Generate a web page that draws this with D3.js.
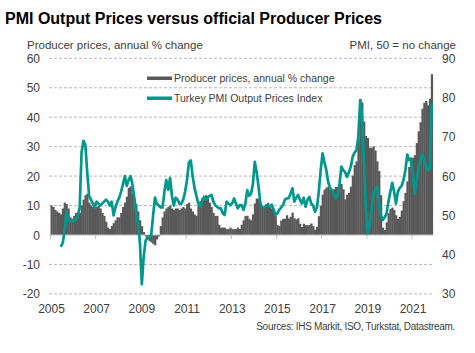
<!DOCTYPE html>
<html>
<head>
<meta charset="utf-8">
<script src="https://cdn.jsdelivr.net/npm/d3@7"></script>
<style>
  body { margin: 0; background: #fff; }
  svg { font-family: "Liberation Sans", Arial, sans-serif; }
</style>
</head>
<body>
<svg id="chart" width="475" height="353"></svg>
<script>
// monthly data, Jan 2005 .. Nov 2021
const startYear = 2005;

// producer prices, annual % change
const ppi = [
  10, 9.5, 8.5, 8, 7.5, 7, 9, 11, 10.5, 9, 6, 5.5,            // 2005
  6.5, 7.5, 7, 7.5, 10, 12, 13.5, 14, 11, 10, 9.5, 11,        // 2006
  9.5, 10, 9, 7.5, 6.5, 4.5, 2.5, 2, 3, 4, 5, 6,              // 2007
  6, 7.5, 9.5, 11, 13, 16, 16.5, 14, 12, 10.5, 8, 5,          // 2008
  3, 1, -0.5, -1.5, -2, -2.5, -3, -3.5, -1.5, -0.5, 3, 6,     // 2009
  8, 9, 9.5, 10, 9, 8.5, 9, 9, 8.5, 9, 9.5, 9,                // 2010
  10.5, 11, 9, 8, 7, 6.5, 10, 11.5, 12.5, 12.5, 13.5, 13.3,   // 2011
  11, 9.5, 7.5, 6.5, 6.5, 3.5, 2.5, 2.5, 2.5, 2, 2, 2.5,      // 2012
  2, 2, 2, 2.5, 2, 3.5, 5, 6.5, 6.5, 5.5, 5, 7,               // 2013
  10.7, 12.4, 12.3, 11, 9.5, 9.8, 10.5, 10.9, 9.8, 9, 8.4, 6.4, // 2014
  3.3, 3.1, 4.9, 5.5, 5.5, 6.7, 5.6, 6.2, 7.6, 5.7, 5.3, 5.7, // 2015
  3.8, 2.7, 3.8, 3.3, 3.3, 3.4, 3.9, 3.0, 1.8, 2.8, 6.4, 9.9, // 2016
  13.7, 15.4, 16.1, 16.4, 15.3, 14.9, 15.5, 16.3, 16.3, 17.3, 17.3, 15.5, // 2017
  12.1, 13.7, 14.3, 16.4, 20.2, 23.7, 25.0, 32.1, 46.2, 45.0, 38.5, 33.6, // 2018
  32.9, 29.6, 29.6, 30.1, 28.7, 25.0, 21.7, 13.5, 2.5, 1.7, 4.3, 7.4,     // 2019
  8.8, 9.3, 8.5, 6.7, 5.5, 6.2, 8.3, 11.5, 14.3, 18.2, 23.1, 25.2,        // 2020
  26.2, 27.1, 31.2, 35.2, 38.3, 42.9, 44.9, 45.5, 44.0, 46.3, 54.6        // 2021
];

// Turkey PMI output prices index (series starts Jun 2005)
const pmi = [
  null, null, null, null, null, 42, 43, 46, 51, 49, 48.5, 48.5,   // 2005
  48.5, 49, 50, 52, 66, 69, 68, 61, 55, 54, 53, 52,               // 2006
  53.5, 53, 52.5, 53, 53.5, 54, 53.5, 52.5, 53.5, 50, 52, 53.5,   // 2007
  54.5, 56, 58, 60, 57.5, 59, 60, 58, 54.5, 51, 48, 43,           // 2008
  32.5, 39.5, 43.5, 44.5, 44.5, 45, 50, 54.5, 53, 52.5, 52, 52,   // 2009
  56, 59, 56.5, 59.5, 55, 52.5, 54.5, 54, 53, 53, 54, 56,         // 2010
  59, 63.5, 64, 60, 57, 55, 53, 52.2, 53.5, 54.7, 54, 54.5,       // 2011
  55, 55.2, 53.5, 52.6, 52.2, 51.8, 51.8, 50.5, 50.1, 53.5, 53, 52.6, // 2012
  53, 54.3, 53, 51.8, 52.6, 52.6, 51.4, 53, 56.4, 55, 55.5, 58,   // 2013
  63.6, 61, 57.3, 53, 52, 52, 52.4, 52.5, 52.2, 52.7, 51.5, 50.1, // 2014
  50.5, 51.4, 52, 52.6, 54, 54.3, 54.4, 55.5, 56.9, 53.5, 54.5, 55.2, // 2015
  54, 53, 54.5, 52.2, 54, 54.7, 53, 52.5, 50.9, 52, 56, 61.5,     // 2016
  65.8, 63.5, 61.5, 58.5, 57, 56.4, 55.5, 54.3, 55, 58, 62.4, 61.5, // 2017
  61, 59.8, 61, 62.4, 64.9, 66, 66.6, 70, 79.3, 75.1, 64, 52,     // 2018
  45.4, 48, 51.5, 55.6, 56.5, 57.3, 53, 50, 48.8, 49.5, 50.5, 53.5, // 2019
  56, 58.3, 56, 53, 56, 57, 57.5, 59, 61.5, 65.5, 64, 64.5,       // 2020
  60, 55.5, 59, 62.4, 64, 65.5, 64, 62.3, 61.5, 62, 78.5          // 2021
];

const leftTicks = [-20, -10, 0, 10, 20, 30, 40, 50, 60];
const rightTicks = [30, 40, 50, 60, 70, 80, 90];
const yearTicks = [2005, 2007, 2009, 2011, 2013, 2015, 2017, 2019, 2021];

const teal = "#00978c";
const grey = "#595959";
const textCol = "#404040";

const svg = d3.select("#chart");

const x = d3.scaleLinear().domain([0, ppi.length]).range([50.5, 432.7]);
const step = x(1) - x(0);
const yL = d3.scaleLinear().domain([-20, 60]).range([293.9, 58.3]);
const yR = d3.scaleLinear().domain([30, 90]).range([293.9, 58.3]);

// title
svg.append("text")
    .attr("x", 5).attr("y", 24)
    .style("font-weight", "bold")
    .style("font-size", "16px")
    .attr("fill", "#000")
    .text("PMI Output Prices versus official Producer Prices");

// axis titles
svg.append("text")
    .attr("x", 27).attr("y", 49)
    .style("font-size", "11.5px").attr("fill", textCol)
    .text("Producer prices, annual % change");
svg.append("text")
    .attr("x", 456).attr("y", 49)
    .attr("text-anchor", "end")
    .style("font-size", "11.5px").attr("fill", textCol)
    .text("PMI, 50 = no change");

// dashed gridlines
svg.append("g").selectAll("line")
    .data(leftTicks.filter(d => d !== 0))
    .enter().append("line")
    .attr("x1", 49).attr("x2", 432.7)
    .attr("y1", d => yL(d)).attr("y2", d => yL(d))
    .attr("stroke", "#a6a6a6")
    .attr("stroke-width", 0.8)
    .attr("stroke-dasharray", "3,2");

// left axis labels
svg.append("g").selectAll("text")
    .data(leftTicks)
    .enter().append("text")
    .attr("x", 40).attr("y", d => yL(d) + 4.5)
    .attr("text-anchor", "end")
    .style("font-size", "12px").attr("fill", textCol)
    .text(d => d);

// right axis labels
svg.append("g").selectAll("text")
    .data(rightTicks)
    .enter().append("text")
    .attr("x", 442).attr("y", d => yR(d) + 4.5)
    .style("font-size", "12px").attr("fill", textCol)
    .text(d => d);

// bars
svg.append("g").selectAll("rect")
    .data(ppi)
    .enter().append("rect")
    .attr("x", (d, i) => x(i))
    .attr("width", step + 0.4)
    .attr("y", d => yL(Math.max(0, d)))
    .attr("height", d => Math.abs(yL(d) - yL(0)))
    .attr("fill", grey);

// zero axis line with year ticks
svg.append("line")
    .attr("x1", 49).attr("x2", 432.7)
    .attr("y1", yL(0)).attr("y2", yL(0))
    .attr("stroke", "#bfbfbf").attr("stroke-width", 1);

svg.append("g").selectAll("line")
    .data(yearTicks)
    .enter().append("line")
    .attr("x1", d => x((d - startYear) * 12)).attr("x2", d => x((d - startYear) * 12))
    .attr("y1", yL(0)).attr("y2", yL(0) + 4)
    .attr("stroke", "#bfbfbf").attr("stroke-width", 1);

// year labels
svg.append("g").selectAll("text")
    .data(yearTicks)
    .enter().append("text")
    .attr("x", d => x((d - startYear) * 12) + 1)
    .attr("y", 312.5)
    .attr("text-anchor", "middle")
    .style("font-size", "12px").attr("fill", textCol)
    .text(d => d);

// PMI line
const line = d3.line()
    .defined(d => d !== null)
    .x((d, i) => x(i) + step / 2)
    .y(d => yR(d));

svg.append("path")
    .datum(pmi)
    .attr("d", line)
    .attr("fill", "none")
    .attr("stroke", teal)
    .attr("stroke-width", 2.7)
    .attr("stroke-linejoin", "round");

// legend
const legend = [
  { label: "Producer prices, annual % change", color: grey },
  { label: "Turkey PMI Output Prices Index", color: teal }
];
const lg = svg.append("g");
legend.forEach((d, i) => {
  lg.append("rect")
    .attr("x", 147).attr("y", 76.5 + i * 20)
    .attr("width", 25).attr("height", 3.5)
    .attr("fill", d.color);
  lg.append("text")
    .attr("x", 174).attr("y", 82 + i * 20)
    .style("font-size", "10.5px").attr("fill", textCol)
    .text(d.label);
});

// source
svg.append("text")
    .attr("x", 455).attr("y", 330)
    .attr("text-anchor", "end")
    .style("font-size", "10px")
    .style("letter-spacing", "-0.3px")
    .attr("fill", textCol)
    .text("Sources: IHS Markit, ISO, Turkstat, Datastream.");
</script>
</body>
</html>
